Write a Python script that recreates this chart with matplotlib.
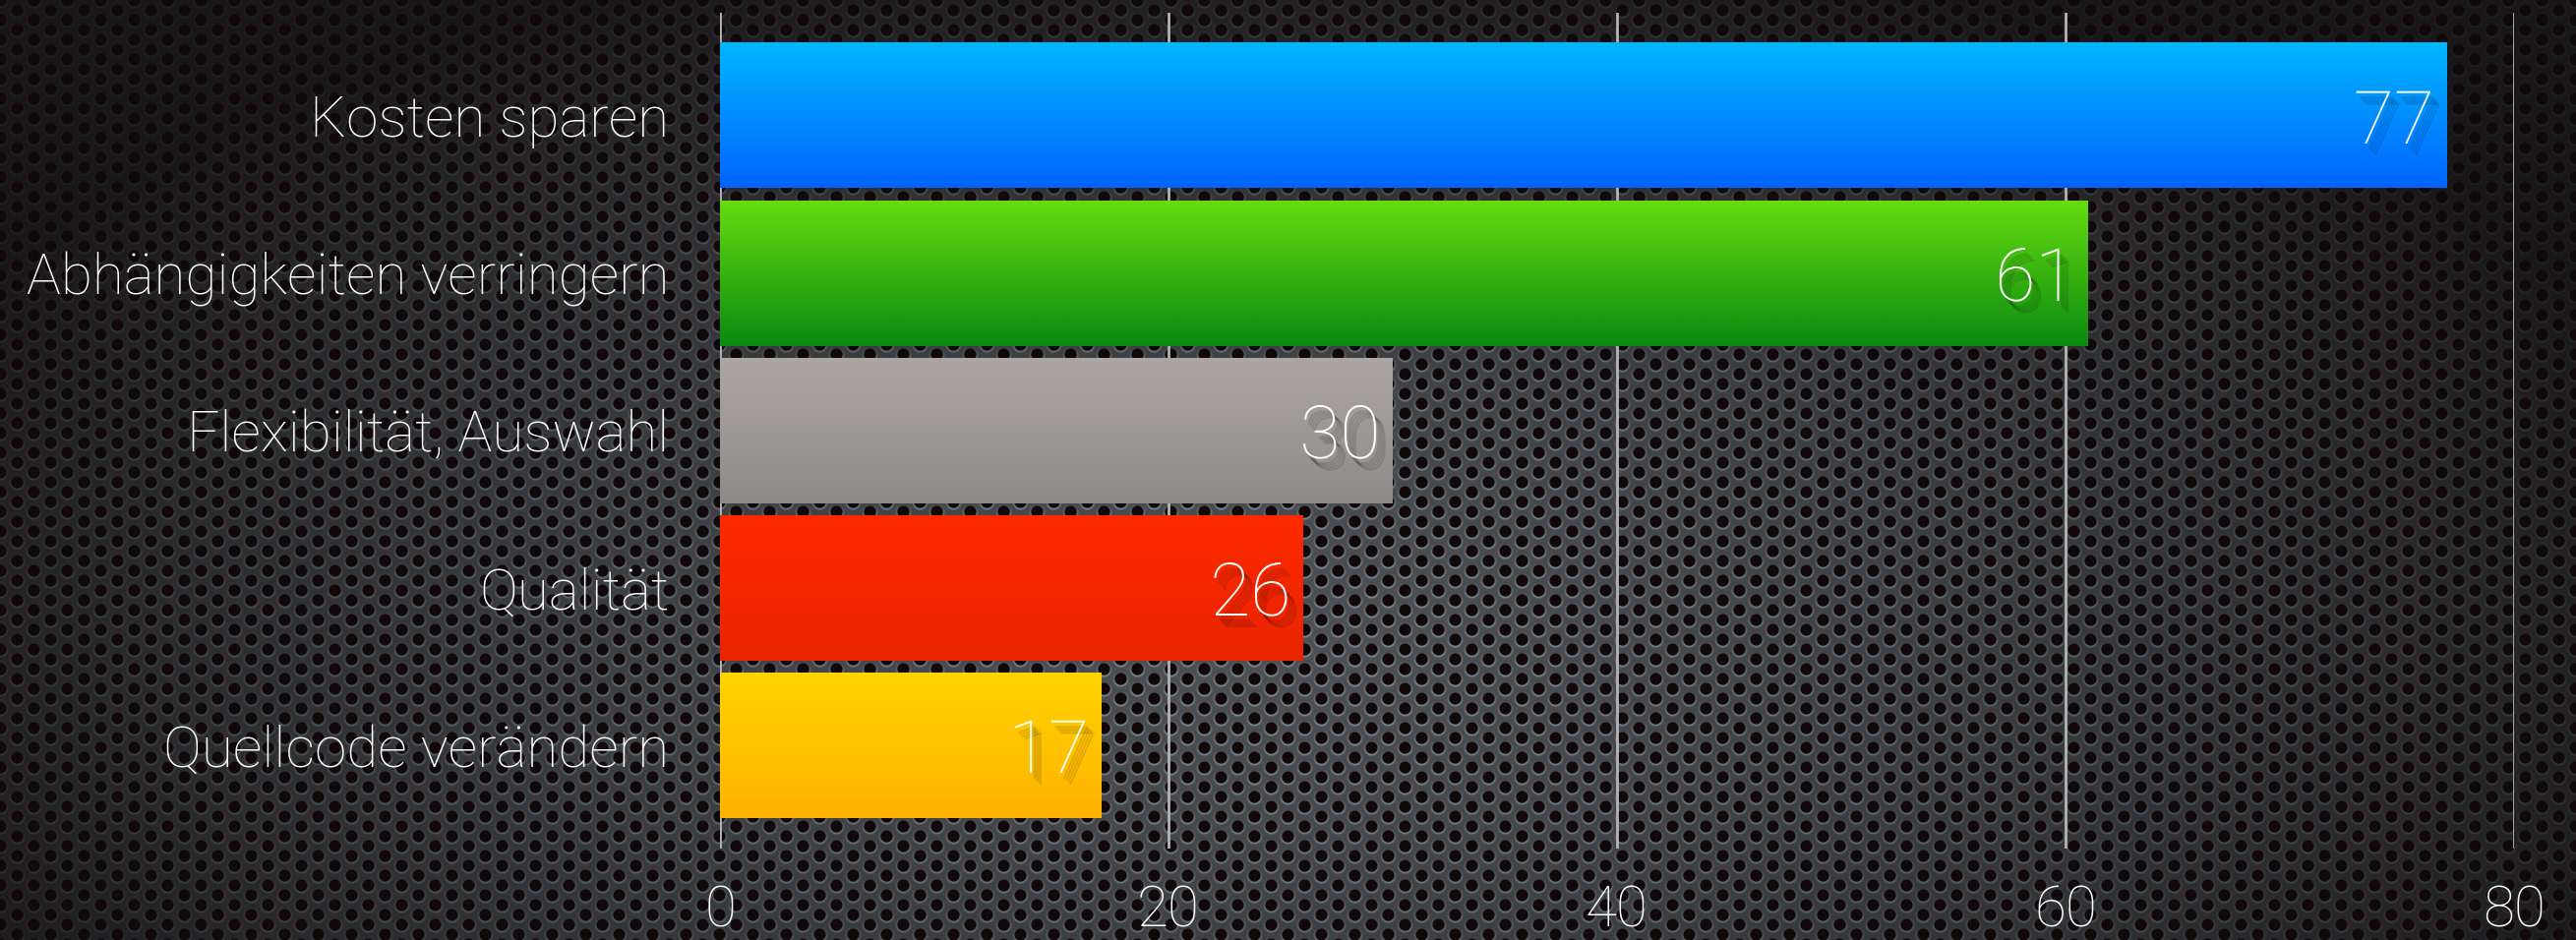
import numpy as np
import matplotlib
matplotlib.use("Agg")
import matplotlib.pyplot as plt
import matplotlib.patheffects as pe
from matplotlib.colors import LinearSegmentedColormap

# data
categories = ["Kosten sparen", "Abhängigkeiten verringern", "Flexibilität, Auswahl",
              "Qualität", "Quellcode verändern"]
values = [77, 61, 30, 26, 17]
top_colors = ["#00b6ff", "#66dc10", "#aca7a5", "#ff2a00", "#ffd400"]
bottom_colors = ["#0064ff", "#0a8a10", "#8e8a89", "#e82400", "#ffb200"]
x_ticks = [0, 20, 40, 60, 80]

plt.rcParams['font.family'] = ['Roboto', 'DejaVu Sans']
plt.rcParams['font.weight'] = 'light'

W, H = 2619, 956
fig = plt.figure(figsize=(W / 100, H / 100), dpi=100)

# perforated metal background
yy, xx = np.mgrid[0:H, 0:W].astype(float)
a, b = 17.0, 20.0
best = np.full((H, W), 1e9)
best_dy = np.zeros((H, W))
for dc in (0, 1):
    col = np.floor(xx / a) + dc
    cx = col * a
    off = (col % 2) * b / 2
    row = np.round((yy - off) / b)
    cy = row * b + off
    d = np.hypot(xx - cx, yy - cy)
    closer = d < best
    best = np.where(closer, d, best)
    best_dy = np.where(closer, yy - cy, best_dy)

hole = np.clip((best - 5.5) / 1.0, 0, 1)
ring = np.exp(-((best - 7.0) / 1.2) ** 2) * (0.4 + 0.4 * best_dy / np.maximum(best, 1))
m = hole * (1.0 + ring)

r = np.sqrt(((xx - 1300) / 1450) ** 2 + ((yy - 650) / 700) ** 2)
vig = np.clip(1.0 - 0.7 * r ** 1.5, 0.25, 1)[..., None]
metal = np.array([0.30, 0.31, 0.33])
hole_col = np.array([0.07, 0.035, 0.04])
img = hole_col + (metal * vig - hole_col * (0.6 + 0.4 * vig)) * m[..., None]
img = np.clip(img, 0, 1)
fig.figimage(img, xo=0, yo=0, origin='upper', zorder=0)

# chart
ax = fig.add_axes([732 / W, 1 - 863 / H, (2556 - 732) / W, 850 / H], zorder=2)
ax.patch.set_alpha(0)
for s in ax.spines.values():
    s.set_visible(False)

ypos = np.arange(len(values))
bars = ax.barh(ypos, values, height=0.919, color='none', zorder=2)
for bar, v, c1, c2 in zip(bars, values, top_colors, bottom_colors):
    x0, y0, w, h = bar.get_x(), bar.get_y(), bar.get_width(), bar.get_height()
    cmap = LinearSegmentedColormap.from_list('g', [c1, c2])
    grad = np.linspace(0, 1, 256).reshape(-1, 1)
    ax.imshow(grad, extent=[x0, x0 + w, y0 + h, y0], cmap=cmap, aspect='auto',
              origin='upper', zorder=2, interpolation='bilinear')
    # soft drop shadow under the value
    shadow = [pe.SimplePatchShadow(offset=(o, -o - 1.5), shadow_rgbFace='black', alpha=0.12)
              for o in (2.5, 4, 5.5, 7)]
    ax.annotate(str(v), (x0 + w, y0 + h / 2), xytext=(-9, 0), textcoords='offset points',
                ha='right', va='center_baseline', fontsize=54, color='white', zorder=3,
                path_effects=shadow + [pe.Normal()])

ax.set_xlim(0, 80)
ax.set_ylim(len(values) - 1 + 0.656, -0.656)
ax.set_xticks(x_ticks)
ax.set_yticks(ypos)
ax.set_yticklabels(categories)
ax.grid(axis='x', color='#b5b5b5', lw=2)
ax.set_axisbelow(True)
ax.tick_params(axis='x', length=0, pad=26, labelsize=42, labelcolor='white')
ax.tick_params(axis='y', length=0, pad=37, labelsize=42, labelcolor='white')

fig.savefig("out.png", dpi=100)
